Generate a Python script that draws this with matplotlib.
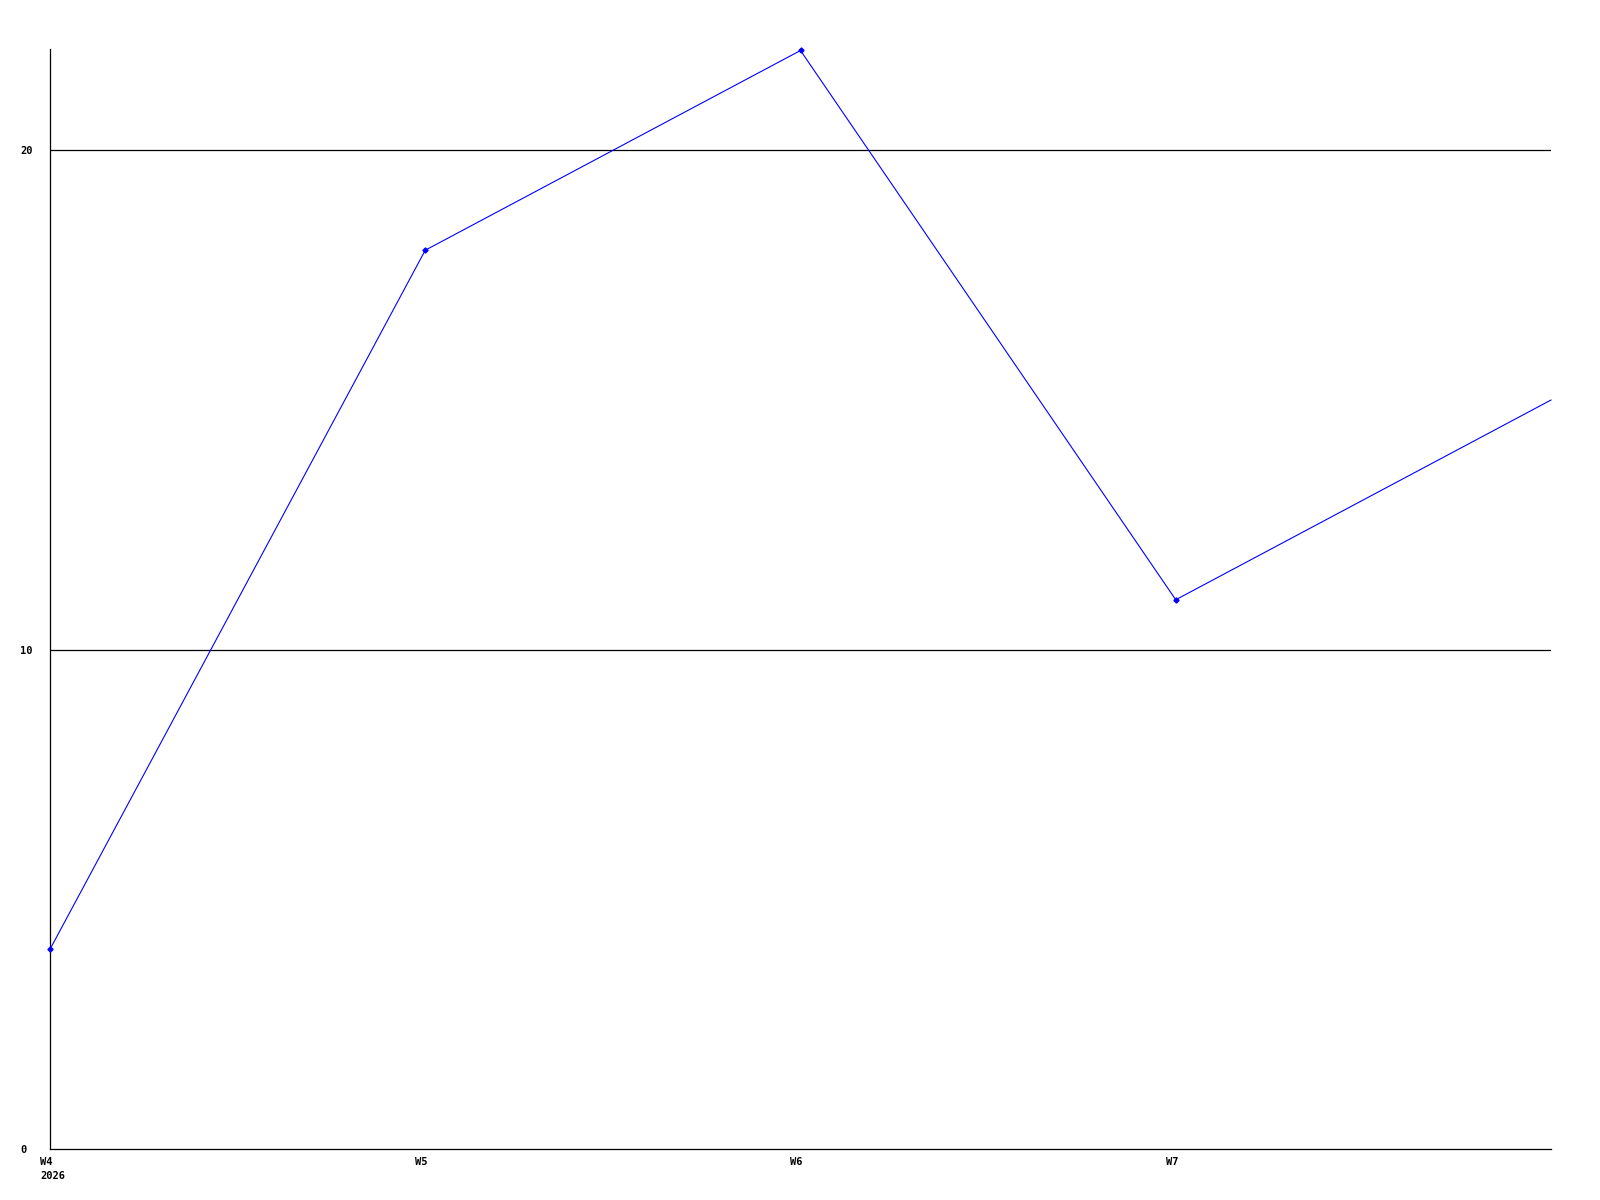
import matplotlib
matplotlib.use("Agg")
import matplotlib.pyplot as plt
import matplotlib.transforms as mtransforms

weeks = ["W4", "W5", "W6", "W7", "W8"]
values = [4, 18, 22, 11, 15]
x_tick_labels = ["W4\n2026", "W5", "W6", "W7"]
y_ticks = [0, 10, 20]

fig = plt.figure(figsize=(16, 12), dpi=100)
ax = fig.add_axes([50/1600, 1 - 1149/1200, (1551 - 50)/1600, (1149 - 49)/1200])

xs = list(range(len(weeks)))
ax.plot(xs, values, color="#0000ff", linewidth=0.8, marker="D", markersize=2.6,
        markevery=[0, 1, 2, 3], zorder=3, clip_on=False)

ax.set_xlim(0, len(weeks) - 1)
ax.set_ylim(0, 22.03)

for y in y_ticks[1:]:
    ax.axhline(y, color="black", linewidth=0.9, zorder=1)

for s in ["top", "right"]:
    ax.spines[s].set_visible(False)
for s in ["left", "bottom"]:
    ax.spines[s].set_color("black")
    ax.spines[s].set_linewidth(0.9)

font = dict(family="DejaVu Sans Mono", weight="bold", size=7.5)

ax.set_xticks(xs[:4])
ax.set_xticklabels(x_tick_labels, ha="left", va="top", linespacing=1.6, **font)
ax.tick_params(axis="x", length=0, pad=5.5)
offset = mtransforms.ScaledTranslation(-10/100, 0, fig.dpi_scale_trans)
for lab in ax.get_xticklabels():
    lab.set_transform(lab.get_transform() + offset)

ax.set_yticks(y_ticks)
ax.set_yticklabels([str(v) for v in y_ticks], ha="left", **font)
ax.tick_params(axis="y", length=0, pad=21.6)

fig.savefig("out.png", dpi=100)
